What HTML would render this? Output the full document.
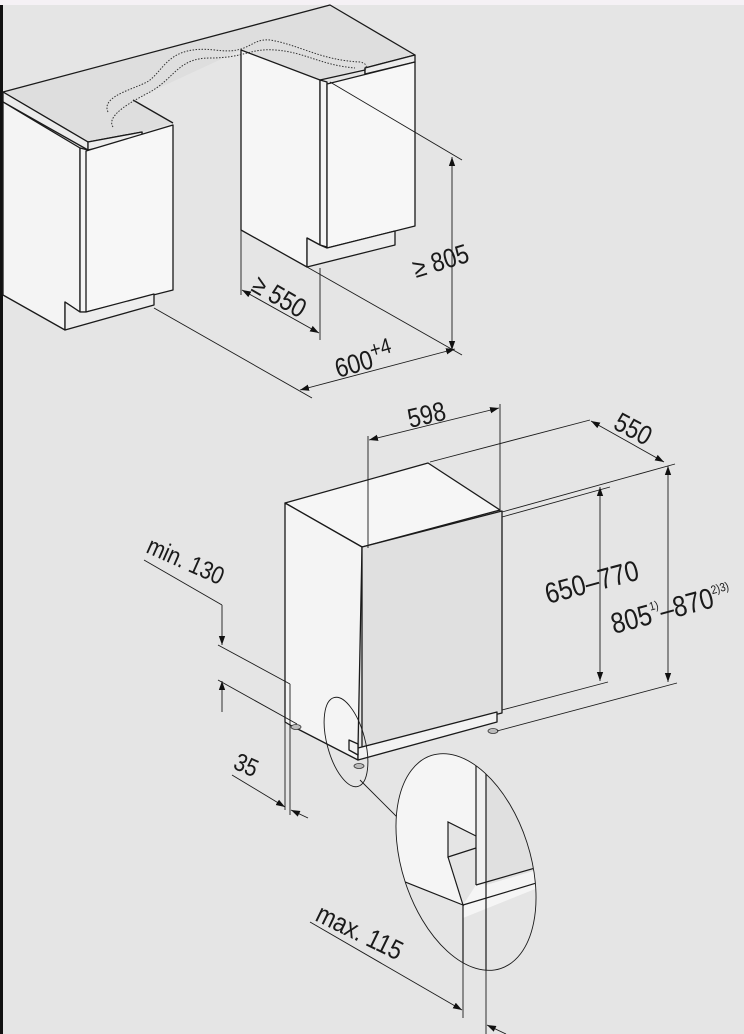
<!DOCTYPE html>
<html><head><meta charset="utf-8"><style>
html,body{margin:0;padding:0;background:#e5e5e5;}
svg{display:block}
text{font-family:"Liberation Sans",sans-serif;fill:#1a1a1a}
</style></head><body>
<svg width="744" height="1034" viewBox="0 0 744 1034" xmlns="http://www.w3.org/2000/svg">
<defs>
<marker id="a" viewBox="0 0 10 10" refX="10" refY="5" markerWidth="9" markerHeight="9" orient="auto-start-reverse" markerUnits="userSpaceOnUse"><path d="M0,1.5 L10,5 L0,8.5z" fill="#111"/></marker>
<clipPath id="ce"><ellipse cx="466" cy="862" rx="64" ry="112" transform="rotate(-18 466 862)"/></clipPath>
</defs>
<rect width="744" height="1034" fill="#e5e5e5"/>
<rect width="744" height="5" fill="#f5f1f5"/>
<rect x="0" y="5" width="3" height="1029" fill="#111"/>
<!-- countertop fill -->
<polygon points="3,92 330,5 415,55 365,68 320,80 241,50 133,100 173,123 142,132 88,142" fill="#dedede"/>
<g stroke="#1a1a1a" stroke-width="1.3" stroke-linejoin="round" fill="none">
<polyline points="88,142 3,92 330,5 415,55 365,68 365,74"/>
<polyline points="133,100 173,123"/>
<polyline points="88,142 142,132 142,137"/>
<polyline points="320,80 365,70"/>
</g>
<g stroke="#1a1a1a" stroke-width="1.3" stroke-linejoin="round">
<polygon points="3,92 88,142 88,150 3,102" fill="#ececec"/>
<polygon points="88,142 142,132 142,138 88,150" fill="#ececec"/>
<polygon points="365,68 415,55 415,62 365,74" fill="#ececec"/>
<!-- left cabinet -->
<polygon points="3,102 80,148 80,312 65,302 65,330 3,295" fill="#f4f4f4"/>
<polygon points="80,148 88,150 88,312 80,312" fill="#f4f4f4"/>
<polygon points="86,151 173,125 173,290 86,312" fill="#f7f7f7"/>
<polygon points="65,302 80,312 86,312 154,294 154,305 65,330" fill="#ededed"/>
<!-- right cabinet -->
<polygon points="241,50 320,80 320,245 307,238 307,267 241,230" fill="#f6f6f6"/>
<polygon points="320,80 327,82 327,247 320,245" fill="#f4f4f4"/>
<polygon points="327,84 415,62 415,226 327,248" fill="#f7f7f7"/>
<polygon points="307,238 320,245 327,248 395,231 395,245 307,267" fill="#ededed"/>
</g>
<g fill="none" stroke="#333" stroke-width="1" stroke-dasharray="1.5,1.5">
<path d="M108,112 C100,95 140,88 150,80 C165,68 170,45 215,50 C250,55 250,38 270,40 C300,45 320,60 360,62 C370,64 365,70 365,70"/>
<path d="M113,127 C105,115 135,100 150,92 C175,78 178,58 210,58 C245,58 250,48 275,50 C305,52 320,65 355,68"/>
</g>
<g stroke="#1a1a1a" stroke-width="0.9" fill="none">
<line x1="330" y1="82" x2="462" y2="160"/>
<line x1="307" y1="267" x2="462" y2="355"/>
<line x1="452" y1="157" x2="452" y2="350" marker-start="url(#a)" marker-end="url(#a)"/>
<line x1="241" y1="230" x2="241" y2="295"/>
<line x1="320" y1="268" x2="320" y2="340"/>
<line x1="242" y1="290" x2="319" y2="333" marker-start="url(#a)" marker-end="url(#a)"/>
<line x1="154" y1="308" x2="312" y2="398"/>
<line x1="300" y1="390" x2="455" y2="349" marker-start="url(#a)" marker-end="url(#a)"/>
</g>
<text font-size="27" transform="translate(416,278) rotate(-17) scale(0.85,1)">≥ 805</text>
<text font-size="27" transform="translate(250,290) rotate(30) scale(0.85,1)">≥ 550</text>
<text font-size="27" transform="translate(338,378) rotate(-16) scale(0.85,1)">600<tspan font-size="22" dy="-10">+4</tspan></text>

<!-- dishwasher -->
<g stroke="#1a1a1a" stroke-width="1.3" stroke-linejoin="round">
<polygon points="285,503 428,463 500,510 362,547" fill="#f6f6f6"/>
<polygon points="285,503 362,547 358,748 358,760 290,725 285,722" fill="#f4f4f4"/>
<polygon points="362,547 502,511 502,713 362,747" fill="#e0e0e0"/>
<polygon points="358,748 497,712 497,722 358,760" fill="#f2f2f2"/>
<polygon points="349,740 358,744 358,755 349,750" fill="#f2f2f2"/>
</g>
<g fill="#bbb" stroke="#333" stroke-width="0.8">
<ellipse cx="296" cy="727" rx="5" ry="2.5"/><ellipse cx="359" cy="766" rx="5" ry="2.5"/><ellipse cx="493" cy="731" rx="5" ry="2.5"/>
</g>
<g stroke="#1a1a1a" stroke-width="0.9" fill="none">
<line x1="368" y1="436" x2="368" y2="548"/>
<line x1="500" y1="404" x2="500" y2="511"/>
<line x1="369" y1="440" x2="499" y2="408" marker-start="url(#a)" marker-end="url(#a)"/>
<line x1="430" y1="462" x2="590" y2="420"/>
<line x1="502" y1="512" x2="675" y2="464"/>
<line x1="502" y1="517" x2="610" y2="487"/>
<line x1="591" y1="421" x2="664" y2="462" marker-start="url(#a)" marker-end="url(#a)"/>
<line x1="600" y1="487" x2="600" y2="681" marker-start="url(#a)" marker-end="url(#a)"/>
<line x1="668" y1="466" x2="668" y2="682" marker-start="url(#a)" marker-end="url(#a)"/>
<line x1="502" y1="710" x2="608" y2="682"/>
<line x1="497" y1="731" x2="677" y2="683"/>
<line x1="144" y1="560" x2="222" y2="605"/>
<line x1="222" y1="605" x2="222" y2="645" marker-end="url(#a)"/>
<line x1="222" y1="712" x2="222" y2="681" marker-end="url(#a)"/>
<line x1="218" y1="645" x2="290" y2="684"/>
<line x1="218" y1="680" x2="297" y2="724"/>
<line x1="285" y1="685" x2="285" y2="810"/>
<line x1="290" y1="684" x2="290" y2="815"/>
<line x1="232" y1="775" x2="285" y2="807" marker-end="url(#a)"/>
<line x1="308" y1="818" x2="291" y2="810" marker-end="url(#a)"/>
<ellipse cx="346" cy="742" rx="19" ry="46" transform="rotate(-15 346 742)"/>
<line x1="360" y1="780" x2="402" y2="822"/>
</g>
<g clip-path="url(#ce)">
<rect x="380" y="740" width="180" height="260" fill="#e5e5e5"/>
<polygon points="370,740 476,740 476,836 448,822 448,857 463,905 370,868" fill="#f5f5f5"/>
<polygon points="486,740 570,740 570,862 486,885" fill="#e0e0e0"/>
<polygon points="476,740 486,740 486,885 476,885" fill="#f0f0f0"/>
<polygon points="463,905 476,885 486,885 570,860 570,875 463,918" fill="#f5f5f5"/>
<g stroke="#1a1a1a" stroke-width="1.2" fill="none">
<line x1="476" y1="740" x2="476" y2="885"/>
<line x1="486" y1="740" x2="486" y2="885"/>
<line x1="476" y1="885" x2="570" y2="858"/>
<line x1="463" y1="905" x2="570" y2="873"/>
<polyline points="476,836 448,822 448,857 476,848"/>
<polyline points="448,857 463,905 370,868"/>
<line x1="463" y1="905" x2="463" y2="1000"/>
<line x1="486" y1="885" x2="486" y2="1000"/>
</g>
</g>
<g stroke="#1a1a1a" stroke-width="0.9" fill="none">
<ellipse cx="466" cy="862" rx="64" ry="112" transform="rotate(-18 466 862)"/>
<line x1="463" y1="905" x2="463" y2="1018"/>
<line x1="486" y1="970" x2="486" y2="1034"/>
<line x1="310" y1="922" x2="462" y2="1010" marker-end="url(#a)"/>
<line x1="506" y1="1034" x2="487" y2="1025" marker-end="url(#a)"/>
</g>
<text font-size="27" transform="translate(410,428) rotate(-13) scale(0.85,1)">598</text>
<text font-size="27" transform="translate(612,428) rotate(28) scale(0.85,1)">550</text>
<text font-size="29" transform="translate(548,604) rotate(-15) scale(0.85,1)">650–770</text>
<text font-size="29" transform="translate(614,634) rotate(-15) scale(0.85,1)">805<tspan font-size="12" dy="-13">1)</tspan><tspan dy="13">–870</tspan><tspan font-size="12" dy="-13">2)3)</tspan></text>
<text font-size="25" transform="translate(145,552) rotate(24) scale(0.85,1)">min. 130</text>
<text font-size="25" transform="translate(232,768) rotate(24) scale(0.85,1)">35</text>
<text font-size="27" transform="translate(314,920) rotate(26) scale(0.85,1)">max. 115</text>
</svg>
</body></html>
